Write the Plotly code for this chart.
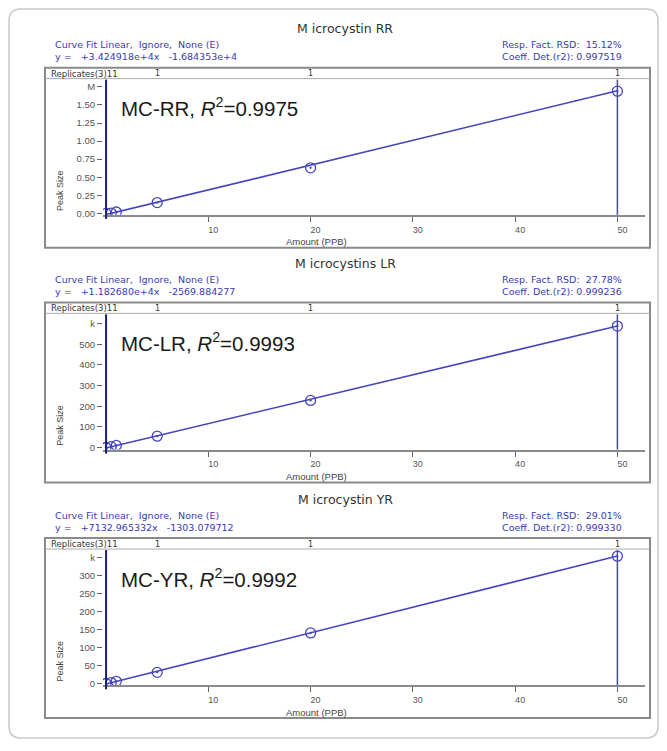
import plotly.graph_objects as go

# ---------------- data ----------------
titles = ["M icrocystin RR", "M icrocystins LR", "M icrocystin YR"]
fit_method = ["Curve Fit Linear,  Ignore,  None (E)"] * 3
equations = ["y =   +3.424918e+4x   -1.684353e+4",
             "y =   +1.182680e+4x   -2569.884277",
             "y =   +7132.965332x   -1303.079712"]
rsd_text = ["Resp. Fact. RSD:  15.12%", "Resp. Fact. RSD:  27.78%", "Resp. Fact. RSD:  29.01%"]
coeff_text = ["Coeff. Det.(r2): 0.997519", "Coeff. Det.(r2): 0.999236", "Coeff. Det.(r2): 0.999330"]
labels = ["MC-RR, <i>R</i><sup>2</sup>=0.9975",
          "MC-LR, <i>R</i><sup>2</sup>=0.9993",
          "MC-YR, <i>R</i><sup>2</sup>=0.9992"]

amount = [0, 0.5, 1, 5, 20, 50]                       # PPB
peak_rr = [0.0, 0.005, 0.02, 0.15, 0.63, 1.69]        # M
peak_lr = [0, 4, 10, 55, 228, 588]                    # k
peak_yr = [0, 2.5, 6, 31, 141, 355]                   # k
peaks = [peak_rr, peak_lr, peak_yr]

fit_x = [0, 50]
fit_rr = [-0.017, 1.696]
fit_lr = [-2.6, 588.8]
fit_yr = [-1.3, 355.3]
fits = [fit_rr, fit_lr, fit_yr]

replicate_x = [5, 20, 50]
replicate_lbl = ["1", "1", "1"]

x_ticks = [10, 20, 30, 40, 50]
x_ticktext = ["10", "20", "30", "40", "50"]
y_ticks = [[0, 0.25, 0.5, 0.75, 1.0, 1.25, 1.5, 1.75],
           [0, 100, 200, 300, 400, 500, 600],
           [0, 50, 100, 150, 200, 250, 300, 350]]
y_ticktext = [["0.00", "0.25", "0.50", "0.75", "1.00", "1.25", "1.50", "M"],
              ["0", "100", "200", "300", "400", "500", "k"],
              ["0", "50", "100", "150", "200", "250", "300", "k"]]
y_ranges = [[-0.02, 1.85], [-10, 645], [-5, 372]]
x_range = [-0.3, 52.7]

# ---------------- layout helpers ----------------
OFF = 8                      # page body margin
W, H = 667 - 2 * OFF, 751 - 2 * OFF
def fx(px):
    return (px - OFF) / W
def fy(py):
    return 1 - (py - OFF) / H

FONT = "Liberation Sans, Arial, sans-serif"
WIDE = "DejaVu Sans, Verdana, sans-serif"
BLUE_TXT = "#3a3ab4"
MARK = "#4646bc"
NAVY = "#1c1c7a"
GREY = "#8a8a8a"

offsets = [0, 236, 473]

fig = go.Figure()
shapes = []
annotations = []
layout_axes = {}

for i in range(3):
    dy = offsets[i]
    sfx = "" if i == 0 else str(i + 1)
    xa, ya = "x" + sfx, "y" + sfx

    fig.add_trace(go.Scatter(x=fit_x, y=fits[i], mode="lines",
                             line=dict(color=MARK, width=1.6),
                             xaxis=xa, yaxis=ya, hoverinfo="skip"))
    fig.add_trace(go.Scatter(x=amount, y=peaks[i], mode="markers",
                             marker=dict(symbol="circle-open-dot", size=10,
                                         color=MARK, line=dict(width=1.3, color=MARK)),
                             xaxis=xa, yaxis=ya))

    layout_axes["xaxis" + sfx] = dict(
        domain=[fx(103), fx(645)], range=x_range, anchor=ya,
        tickvals=x_ticks, ticktext=x_ticktext, ticks="outside", ticklen=5,
        tickcolor="#666", tickwidth=1, showgrid=False, zeroline=False,
        showline=True, linecolor=GREY, linewidth=2,
        tickfont=dict(family=FONT, size=9, color="#555"), ticklabelshift=5)
    layout_axes["yaxis" + sfx] = dict(
        domain=[fy(216 + dy), fy(80 + dy)], range=y_ranges[i], anchor=xa,
        tickvals=y_ticks[i], ticktext=y_ticktext[i], ticks="outside", ticklen=5,
        tickcolor="#666", tickwidth=1, showgrid=False, zeroline=False,
        showline=False,
        tickfont=dict(family=FONT, size=9.5, color="#555"))

    shapes.append(dict(type="line", xref=xa, yref=ya + " domain",
                       x0=amount[0], x1=amount[0], y0=-0.03, y1=1,
                       line=dict(color=NAVY, width=2)))
    shapes.append(dict(type="line", xref=xa, yref=ya + " domain",
                       x0=amount[-1], x1=amount[-1], y0=0, y1=1,
                       line=dict(color=MARK, width=1.5)))
    shapes.append(dict(type="rect", xref="paper", yref="paper",
                       x0=fx(45), x1=fx(650), y0=fy(249 + dy), y1=fy(68 + dy),
                       line=dict(color=GREY, width=2)))
    shapes.append(dict(type="line", xref="paper", yref="paper",
                       x0=fx(45), x1=fx(650), y0=fy(79 + dy), y1=fy(79 + dy),
                       line=dict(color="#aaa", width=1)))

    annotations += [
        dict(text=titles[i], x=fx(345), y=fy(29 + dy), xref="paper", yref="paper",
             showarrow=False, font=dict(family=WIDE, size=12.5, color="#333"),
             xanchor="center", yanchor="middle"),
        dict(text=fit_method[i].replace(" ", "\u00a0"), x=fx(53), y=fy(45 + dy),
             xref="paper", yref="paper", showarrow=False,
             font=dict(family=WIDE, size=9.5, color=BLUE_TXT),
             xanchor="left", yanchor="middle"),
        dict(text=equations[i].replace(" ", "\u00a0"), x=fx(53), y=fy(57 + dy),
             xref="paper", yref="paper", showarrow=False,
             font=dict(family=WIDE, size=9.5, color=BLUE_TXT),
             xanchor="left", yanchor="middle"),
        dict(text=rsd_text[i].replace(" ", "\u00a0"), x=fx(500), y=fy(45 + dy),
             xref="paper", yref="paper", showarrow=False,
             font=dict(family=WIDE, size=9.5, color=BLUE_TXT),
             xanchor="left", yanchor="middle"),
        dict(text=coeff_text[i].replace(" ", "\u00a0"), x=fx(500), y=fy(57 + dy),
             xref="paper", yref="paper", showarrow=False,
             font=dict(family=WIDE, size=9.5, color=BLUE_TXT),
             xanchor="left", yanchor="middle"),
        dict(text="Replicates(3)11", x=fx(49), y=fy(74 + dy),
             xref="paper", yref="paper", showarrow=False,
             font=dict(family=WIDE, size=8.5, color="#333"),
             xanchor="left", yanchor="middle"),
        dict(text="Peak Size", x=fx(60), y=fy(192 + dy), textangle=-90,
             xref="paper", yref="paper", showarrow=False,
             font=dict(family=FONT, size=9, color="#444"),
             xanchor="center", yanchor="middle"),
        dict(text="Amount (PPB)", x=fx(316), y=fy(243 + dy),
             xref="paper", yref="paper", showarrow=False,
             font=dict(family=FONT, size=9.5, color="#444"),
             xanchor="center", yanchor="middle"),
        dict(text=labels[i], x=fx(119), y=fy(108 + dy),
             xref="paper", yref="paper", showarrow=False,
             font=dict(family=FONT, size=20.5, color="#1a1a1a"),
             xanchor="left", yanchor="middle"),
    ]
    for rx, rl in zip(replicate_x, replicate_lbl):
        annotations.append(dict(text=rl, x=rx, xref=xa, y=fy(74 + dy), yref="paper",
                                showarrow=False, font=dict(family=WIDE, size=8, color="#333"),
                                xanchor="center", yanchor="middle"))

# outer rounded frame
r = 12
x0, x1, y0, y1 = 9, 658, 9, 742
def P(x, y):
    return f"{fx(x):.5f},{fy(y):.5f}"
path = (f"M {P(x0 + r, y0)} L {P(x1 - r, y0)} Q {P(x1, y0)} {P(x1, y0 + r)} "
        f"L {P(x1, y1 - r)} Q {P(x1, y1)} {P(x1 - r, y1)} "
        f"L {P(x0 + r, y1)} Q {P(x0, y1)} {P(x0, y1 - r)} "
        f"L {P(x0, y0 + r)} Q {P(x0, y0)} {P(x0 + r, y0)} Z")
shapes.append(dict(type="path", xref="paper", yref="paper", path=path,
                   line=dict(color="#c8c8c8", width=1.5), layer="below"))

fig.update_layout(
    width=W, height=H, margin=dict(l=0, r=0, t=0, b=0),
    paper_bgcolor="white", plot_bgcolor="white", showlegend=False,
    shapes=shapes, annotations=annotations, **layout_axes)

fig.write_html("out.html")
